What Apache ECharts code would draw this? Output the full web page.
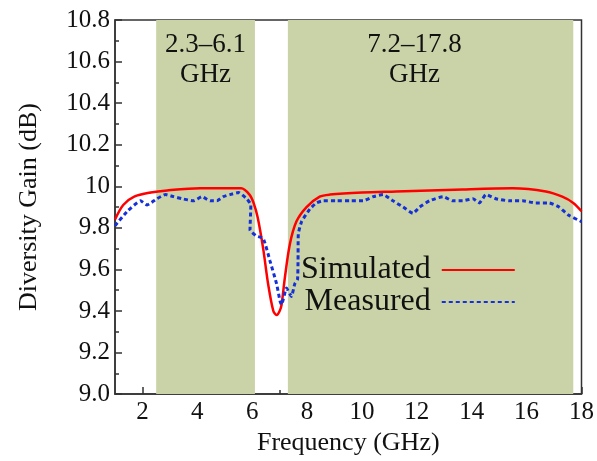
<!DOCTYPE html>
<html><head><meta charset="utf-8">
<script src="https://cdn.jsdelivr.net/npm/echarts@6/dist/echarts.min.js"></script>
<style>html,body{margin:0;padding:0;background:#fff}#c{width:597px;height:461px}</style>
</head><body><div id="c"></div>
<script>
const simX = [1.0, 1.3, 1.7, 2.3, 2.9, 4.1, 5.0, 5.6, 5.9, 6.05, 6.2, 6.4, 6.58, 6.77, 6.89, 7.0, 7.07, 7.19, 7.37, 7.61, 7.98, 8.46, 8.83, 10, 11.25, 13.67, 15.49, 16.7, 17.3, 17.7, 18.0];
const simY = [9.84, 9.91, 9.95, 9.97, 9.98, 9.99, 9.99, 9.99, 9.96, 9.92, 9.85, 9.70, 9.53, 9.40, 9.38, 9.40, 9.43, 9.56, 9.72, 9.83, 9.90, 9.95, 9.96, 9.97, 9.975, 9.985, 9.99, 9.975, 9.95, 9.92, 9.88];
const measX = [1.0, 1.45, 1.93, 2.17, 2.53, 2.84, 3.14, 3.44, 3.86, 4.17, 4.47, 4.71, 4.95, 5.19, 5.5, 5.8, 5.95, 5.92, 6.16, 6.40, 6.65, 6.89, 7.01, 7.07, 7.25, 7.43, 7.55, 7.65, 7.67, 7.68, 7.80, 8.10, 8.34, 8.59, 9.08, 9.56, 10.04, 10.41, 10.77, 11.13, 11.50, 11.86, 12.10, 12.46, 12.95, 13.31, 13.67, 14.04, 14.28, 14.52, 14.88, 15.36, 15.85, 16.33, 16.82, 17.18, 17.54, 18.0];
const measY = [9.81, 9.88, 9.93, 9.91, 9.94, 9.96, 9.95, 9.94, 9.93, 9.95, 9.93, 9.93, 9.95, 9.96, 9.97, 9.94, 9.91, 9.79, 9.76, 9.75, 9.64, 9.53, 9.45, 9.43, 9.51, 9.47, 9.53, 9.55, 9.64, 9.77, 9.83, 9.89, 9.92, 9.93, 9.93, 9.93, 9.93, 9.95, 9.96, 9.93, 9.90, 9.87, 9.90, 9.93, 9.95, 9.93, 9.93, 9.94, 9.92, 9.96, 9.94, 9.93, 9.93, 9.92, 9.92, 9.90, 9.86, 9.83];
const xMajorTicks = [2, 4, 6, 8, 10, 12, 14, 16, 18];
const xMinorTicks = [3, 5, 7, 9, 11, 13, 15, 17];
const bands = [[2.5, 6.1, '2.3–6.1\nGHz', 0], [7.3, 17.7, '7.2–17.8\nGHz', -16]];

const FONT = 'Liberation Serif';
const zip = (a, b) => a.map((v, i) => [v, b[i]]);
const chart = echarts.init(document.getElementById('c'));
chart.setOption({
  animation: false,
  grid: { left: 115, top: 20, right: 13, bottom: 63, show: true, borderColor: '#333', borderWidth: 1.5, backgroundColor: 'transparent' },
  legend: {
    data: ['Simulated', 'Measured'], orient: 'vertical', left: 296, top: 249, align: 'right',
    itemWidth: 73, itemHeight: 14, itemGap: 0,
    itemStyle: { opacity: 0 },
    textStyle: { fontFamily: FONT, fontSize: 32, color: '#111', padding: [0, 6, 0, 0], lineHeight: 28 }
  },
  xAxis: [{
    type: 'value', min: 1, max: 18,
    name: 'Frequency (GHz)', nameLocation: 'middle', nameGap: 30,
    nameTextStyle: { fontFamily: FONT, fontSize: 26, color: '#111' },
    axisLine: { lineStyle: { color: '#333', width: 1.5 } },
    axisTick: { inside: true, length: 7, customValues: xMajorTicks, lineStyle: { color: '#333', width: 1.5 } },
    axisLabel: { customValues: xMajorTicks, fontFamily: FONT, fontSize: 25, color: '#111', margin: 6 },
    splitLine: { show: false }
  }, {
    type: 'value', min: 1, max: 18, position: 'bottom',
    axisLine: { show: false },
    axisTick: { inside: true, length: 4, customValues: xMinorTicks, lineStyle: { color: '#333', width: 1.5 } },
    axisLabel: { show: false }, splitLine: { show: false }
  }],
  yAxis: {
    type: 'value', min: 9, max: 10.8, interval: 0.2,
    name: 'Diversity Gain (dB)', nameLocation: 'middle', nameGap: 73,
    nameTextStyle: { fontFamily: FONT, fontSize: 26, color: '#111' },
    axisLine: { show: true, lineStyle: { color: '#333', width: 1.5 } },
    axisTick: { show: true, inside: true, length: 7, lineStyle: { color: '#333', width: 1.5 } },
    minorTick: { show: true, splitNumber: 2, length: 4, lineStyle: { color: '#333', width: 1.5 } },
    axisLabel: { fontFamily: FONT, fontSize: 25, color: '#111', margin: 5,
      formatter: v => Math.abs(v - 10) < 1e-6 ? '10' : (Math.round(v * 10) / 10).toFixed(1) },
    splitLine: { show: false }, minorSplitLine: { show: false }
  },
  series: [{
    type: 'line', name: 'bands', data: [], silent: true,
    markArea: {
      silent: true,
      itemStyle: { color: '#cad3a7' },
      label: { show: true, position: 'insideTop', distance: 10, fontFamily: FONT, fontSize: 27, lineHeight: 30, color: '#111' },
      data: bands.map(b => [{ xAxis: b[0], name: b[2], label: { offset: [b[3], 0] } }, { xAxis: b[1] }])
    }
  }, {
    type: 'line', name: 'Simulated', data: zip(simX, simY), symbol: 'none', smooth: 0.3,
    lineStyle: { color: '#ff0000', width: 2.5 }, itemStyle: { color: '#ff0000' }, z: 3
  }, {
    type: 'line', name: 'Measured', data: zip(measX, measY), symbol: 'none', smooth: 0.15,
    lineStyle: { color: '#1530d8', width: 3, type: [4, 3] }, itemStyle: { color: '#1530d8' }, z: 4
  }]
});
</script></body></html>
